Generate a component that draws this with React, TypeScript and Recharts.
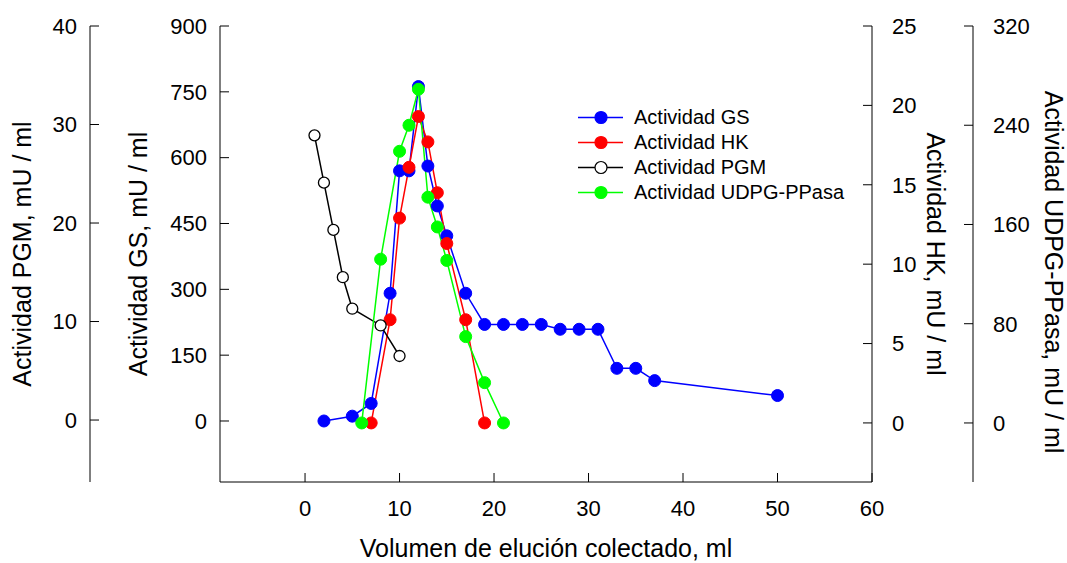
import React from 'react';
import { LineChart, Line, XAxis, YAxis, Legend } from 'recharts';

// ---- data ----
const gsX = [2, 5, 7, 9, 10, 11, 12, 13, 14, 15, 17, 19, 21, 23, 25, 27, 29, 31, 33, 35, 37, 50];
const gsY = [0, 11, 40, 291, 570, 570, 762, 581, 490, 422, 291, 220, 220, 220, 220, 209, 209, 209, 120, 120, 92, 58];

const hkX = [7, 9, 10, 11, 12, 13, 14, 15, 17, 19];
const hkY = [0, 6.5, 12.9, 16.1, 19.3, 17.7, 14.5, 11.3, 6.5, 0];

const pgmX = [1, 2, 3, 4, 5, 8, 10];
const pgmY = [28.9, 24.1, 19.3, 14.5, 11.3, 9.6, 6.5];

const udpgX = [6, 8, 10, 11, 12, 13, 14, 15, 17, 19, 21];
const udpgY = [0, 132, 219, 240, 269, 182, 158, 131, 69.6, 32.5, 0];

const xTicks = [0, 10, 20, 30, 40, 50, 60];
const gsTicks = [0, 150, 300, 450, 600, 750, 900];
const pgmTicks = [0, 10, 20, 30, 40];
const hkTicks = [0, 5, 10, 15, 20, 25];
const udpgTicks = [0, 80, 160, 240, 320];

const seriesNames = ['Actividad GS', 'Actividad HK', 'Actividad PGM', 'Actividad UDPG-PPasa'];
const seriesColors = ['#0000ff', '#ff0000', '#000000', '#00ff00'];
const seriesFill = ['#0000ff', '#ff0000', '#ffffff', '#00ff00'];

const xTitle = 'Volumen de elución colectado, ml';
const gsTitle = 'Actividad GS, mU / ml';
const pgmTitle = 'Actividad PGM, mU / ml';
const hkTitle = 'Actividad HK, mU / ml';
const udpgTitle = 'Actividad UDPG-PPasa, mU / ml';

const zip = (xs: number[], ys: number[]) => xs.map((x, i) => ({ x, y: ys[i] }));
const gsData = zip(gsX, gsY);
const hkData = zip(hkX, hkY);
const pgmData = zip(pgmX, pgmY);
const udpgData = zip(udpgX, udpgY);

const FONT = '"Liberation Sans", Arial, Helvetica, sans-serif';
const TICK = { fill: '#000', fontSize: 22, fontFamily: FONT };
const AXIS = { stroke: '#000', strokeWidth: 1 };

const yTitle = (text: string, dx: number, angle: number, dy = 0) => ({
  content: (props: any) => {
    const vb = props.viewBox || {};
    const cx = vb.x + dx;
    const cy = vb.y + vb.height / 2 + dy;
    return (
      <text
        x={cx}
        y={cy}
        transform={`rotate(${angle} ${cx} ${cy})`}
        textAnchor="middle"
        dominantBaseline="central"
        fontSize={25}
        fontFamily={FONT}
        fill="#000"
      >
        {text}
      </text>
    );
  },
});

const xTitleLabel = {
  content: (props: any) => {
    const vb = props.viewBox || {};
    return (
      <text
        x={vb.x + vb.width / 2}
        y={vb.y + 75}
        textAnchor="middle"
        fontSize={25}
        fontFamily={FONT}
        fill="#000"
      >
        {xTitle}
      </text>
    );
  },
};

const LegendContent = () => (
  <div style={{ fontFamily: FONT, fontSize: 20, color: '#000' }}>
    {seriesNames.map((n, i) => (
      <div key={n} style={{ display: 'flex', alignItems: 'center', height: 25 }}>
        <svg width={45} height={25} style={{ display: 'block' }}>
          <line x1={0} y1={12.5} x2={45} y2={12.5} stroke={seriesColors[i]} strokeWidth={1.5} />
          <circle cx={23} cy={12.5} r={6} fill={seriesFill[i]} stroke={seriesColors[i]} strokeWidth={1.2} />
        </svg>
        <span style={{ marginLeft: 11, whiteSpace: 'nowrap', lineHeight: '25px' }}>{n}</span>
      </div>
    ))}
  </div>
);

export default function App() {
  return (
    <div style={{ position: 'absolute', left: 0, top: 0, width: 1067, height: 563, background: '#fff' }}>
      <LineChart width={1067} height={563} margin={{ top: 26, right: 0, bottom: 0, left: 0 }}>
        <XAxis
          dataKey="x"
          type="number"
          domain={[-9, 60]}
          ticks={xTicks}
          height={81}
          tick={TICK}
          tickSize={-9}
          tickMargin={27}
          axisLine={AXIS}
          tickLine={AXIS}
          allowDataOverflow
          label={xTitleLabel}
        />
        <XAxis
          xAxisId="top"
          orientation="top"
          dataKey="x"
          type="number"
          domain={[-9, 60]}
          height={0}
          tick={false}
          tickLine={false}
          axisLine={AXIS}
        />
        <YAxis
          yAxisId="gs"
          orientation="left"
          type="number"
          domain={[-139, 900]}
          ticks={gsTicks}
          width={130}
          tick={TICK}
          tickSize={-9}
          tickMargin={22}
          axisLine={AXIS}
          tickLine={AXIS}
          allowDataOverflow
          label={yTitle(gsTitle, 48, -90)}
        />
        <YAxis
          yAxisId="pgm"
          orientation="left"
          type="number"
          domain={[-6.29, 40]}
          ticks={pgmTicks}
          width={90}
          tick={TICK}
          tickSize={-9}
          tickMargin={22}
          axisLine={AXIS}
          tickLine={AXIS}
          allowDataOverflow
          label={yTitle(pgmTitle, 22, -90)}
        />
        <YAxis
          yAxisId="hk"
          orientation="right"
          type="number"
          domain={[-3.72, 25]}
          ticks={hkTicks}
          width={101}
          tick={{ ...TICK, textAnchor: 'start' }}
          tickSize={-9}
          tickMargin={29}
          axisLine={AXIS}
          tickLine={AXIS}
          allowDataOverflow
          label={yTitle(hkTitle, 64, 90)}
        />
        <YAxis
          yAxisId="udpg"
          orientation="right"
          type="number"
          domain={[-47.6, 320]}
          ticks={udpgTicks}
          width={94}
          tick={{ ...TICK, textAnchor: 'start' }}
          tickSize={-9}
          tickMargin={29}
          axisLine={AXIS}
          tickLine={AXIS}
          allowDataOverflow
          label={yTitle(udpgTitle, 81, 90, 18)}
        />
        <Legend
          layout="vertical"
          align="center"
          verticalAlign="middle"
          content={<LegendContent />}
          wrapperStyle={{ position: 'absolute', left: 578, top: 104.5, width: 300, height: 100 }}
        />
        <Line
          yAxisId="gs"
          data={gsData}
          dataKey="y"
          name={seriesNames[0]}
          stroke={seriesColors[0]}
          strokeWidth={1.5}
          dot={{ r: 6, fill: seriesFill[0], stroke: seriesColors[0], strokeWidth: 1 }}
          isAnimationActive={false}
        />
        <Line
          yAxisId="hk"
          data={hkData}
          dataKey="y"
          name={seriesNames[1]}
          stroke={seriesColors[1]}
          strokeWidth={1.5}
          dot={{ r: 6, fill: seriesFill[1], stroke: seriesColors[1], strokeWidth: 1 }}
          isAnimationActive={false}
        />
        <Line
          yAxisId="pgm"
          data={pgmData}
          dataKey="y"
          name={seriesNames[2]}
          stroke={seriesColors[2]}
          strokeWidth={1.5}
          dot={{ r: 5.5, fill: seriesFill[2], stroke: seriesColors[2], strokeWidth: 1.3 }}
          isAnimationActive={false}
        />
        <Line
          yAxisId="udpg"
          data={udpgData}
          dataKey="y"
          name={seriesNames[3]}
          stroke={seriesColors[3]}
          strokeWidth={1.5}
          dot={{ r: 6, fill: seriesFill[3], stroke: seriesColors[3], strokeWidth: 1 }}
          isAnimationActive={false}
        />
      </LineChart>
    </div>
  );
}
